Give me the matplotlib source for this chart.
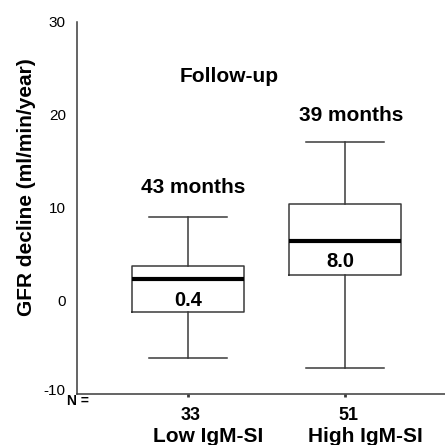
import matplotlib.pyplot as plt
from matplotlib.transforms import ScaledTranslation

plt.rcParams['font.family'] = ['Liberation Sans', 'DejaVu Sans']
plt.rcParams['axes.unicode_minus'] = False

# Box plot summary
groups = ['Low IgM-SI', 'High IgM-SI']
counts = ['33', '51']
whisker_low = [-6.1, -7.2]
q1 = [-1.15, 2.8]
medians = [2.4, 6.5]
q3 = [3.8, 10.4]
whisker_high = [9.0, 17.1]
median_labels = ['0.4', '8.0']
followup = ['43 months', '39 months']

stats = []
for i in range(len(groups)):
    stats.append({'whislo': whisker_low[i], 'q1': q1[i], 'med': medians[i],
                  'q3': q3[i], 'whishi': whisker_high[i], 'fliers': []})

fig = plt.figure(figsize=(4.45, 4.45), dpi=100)
ax = fig.add_axes([0.173, 0.1146, 0.827, 0.836])

edge = '#3a3a3a'
positions = [1, 2]
ax.bxp(stats, positions=positions, widths=0.71, showfliers=False,
       boxprops=dict(color=edge, linewidth=1.1),
       whiskerprops=dict(color=edge, linewidth=1.1),
       capprops=dict(color=edge, linewidth=1.1),
       medianprops=dict(color='black', linewidth=3),
       capwidths=0.5)

ax.set_xlim(0.293, 2.637)
ax.set_ylim(-10, 30)
ax.set_yticks([-10, 0, 10, 20, 30])
ax.tick_params(axis='y', length=0, pad=8, labelsize=11)
ax.set_xticks(positions)
ax.set_xticklabels([])
ax.tick_params(axis='x', length=2, width=2, color=edge)
for s in ['top', 'right']:
    ax.spines[s].set_visible(False)
for s in ['left', 'bottom']:
    ax.spines[s].set_color(edge)
    ax.spines[s].set_linewidth(1.1)

# the lowest tick label sits a little above its tick in the original
low_label = ax.yaxis.get_major_ticks()[0].label1
low_label.set_transform(low_label.get_transform() + ScaledTranslation(0, 5 / 100, fig.dpi_scale_trans))

ax.set_ylabel('GFR decline (ml/min/year)', fontsize=15, fontweight='bold')
ax.yaxis.set_label_coords(-0.111, 0.556)

# annotations
ax.text(1.26, 24.1, 'Follow-up', ha='center', va='center', fontsize=15, fontweight='bold')
ax.text(1.03, 12.2, followup[0], ha='center', va='center', fontsize=15, fontweight='bold')
ax.text(2.04, 19.9, followup[1], ha='center', va='center', fontsize=15, fontweight='bold')
ax.text(1.0, 0.1, median_labels[0], ha='center', va='center', fontsize=14.5, fontweight='bold')
ax.text(1.97, 4.3, median_labels[1], ha='center', va='center', fontsize=14.5, fontweight='bold')

# counts and group names under the axis: x from data, y in figure fraction
to_fig = fig.transFigure.inverted()
for i, pos in enumerate(positions):
    x_fig = to_fig.transform(ax.transData.transform((pos, 0)))[0]
    fig.text(x_fig + 3 / 445, 0.0562, counts[i], ha='center', va='baseline',
             fontsize=13, fontweight='bold')
    fig.text(x_fig + 20 / 445, 0.0067, groups[i], ha='center', va='baseline',
             fontsize=15, fontweight='bold')
fig.text(78 / 445, 0.09, 'N =', ha='center', va='baseline', fontsize=10, fontweight='bold')

fig.savefig('out.png', dpi=100)
